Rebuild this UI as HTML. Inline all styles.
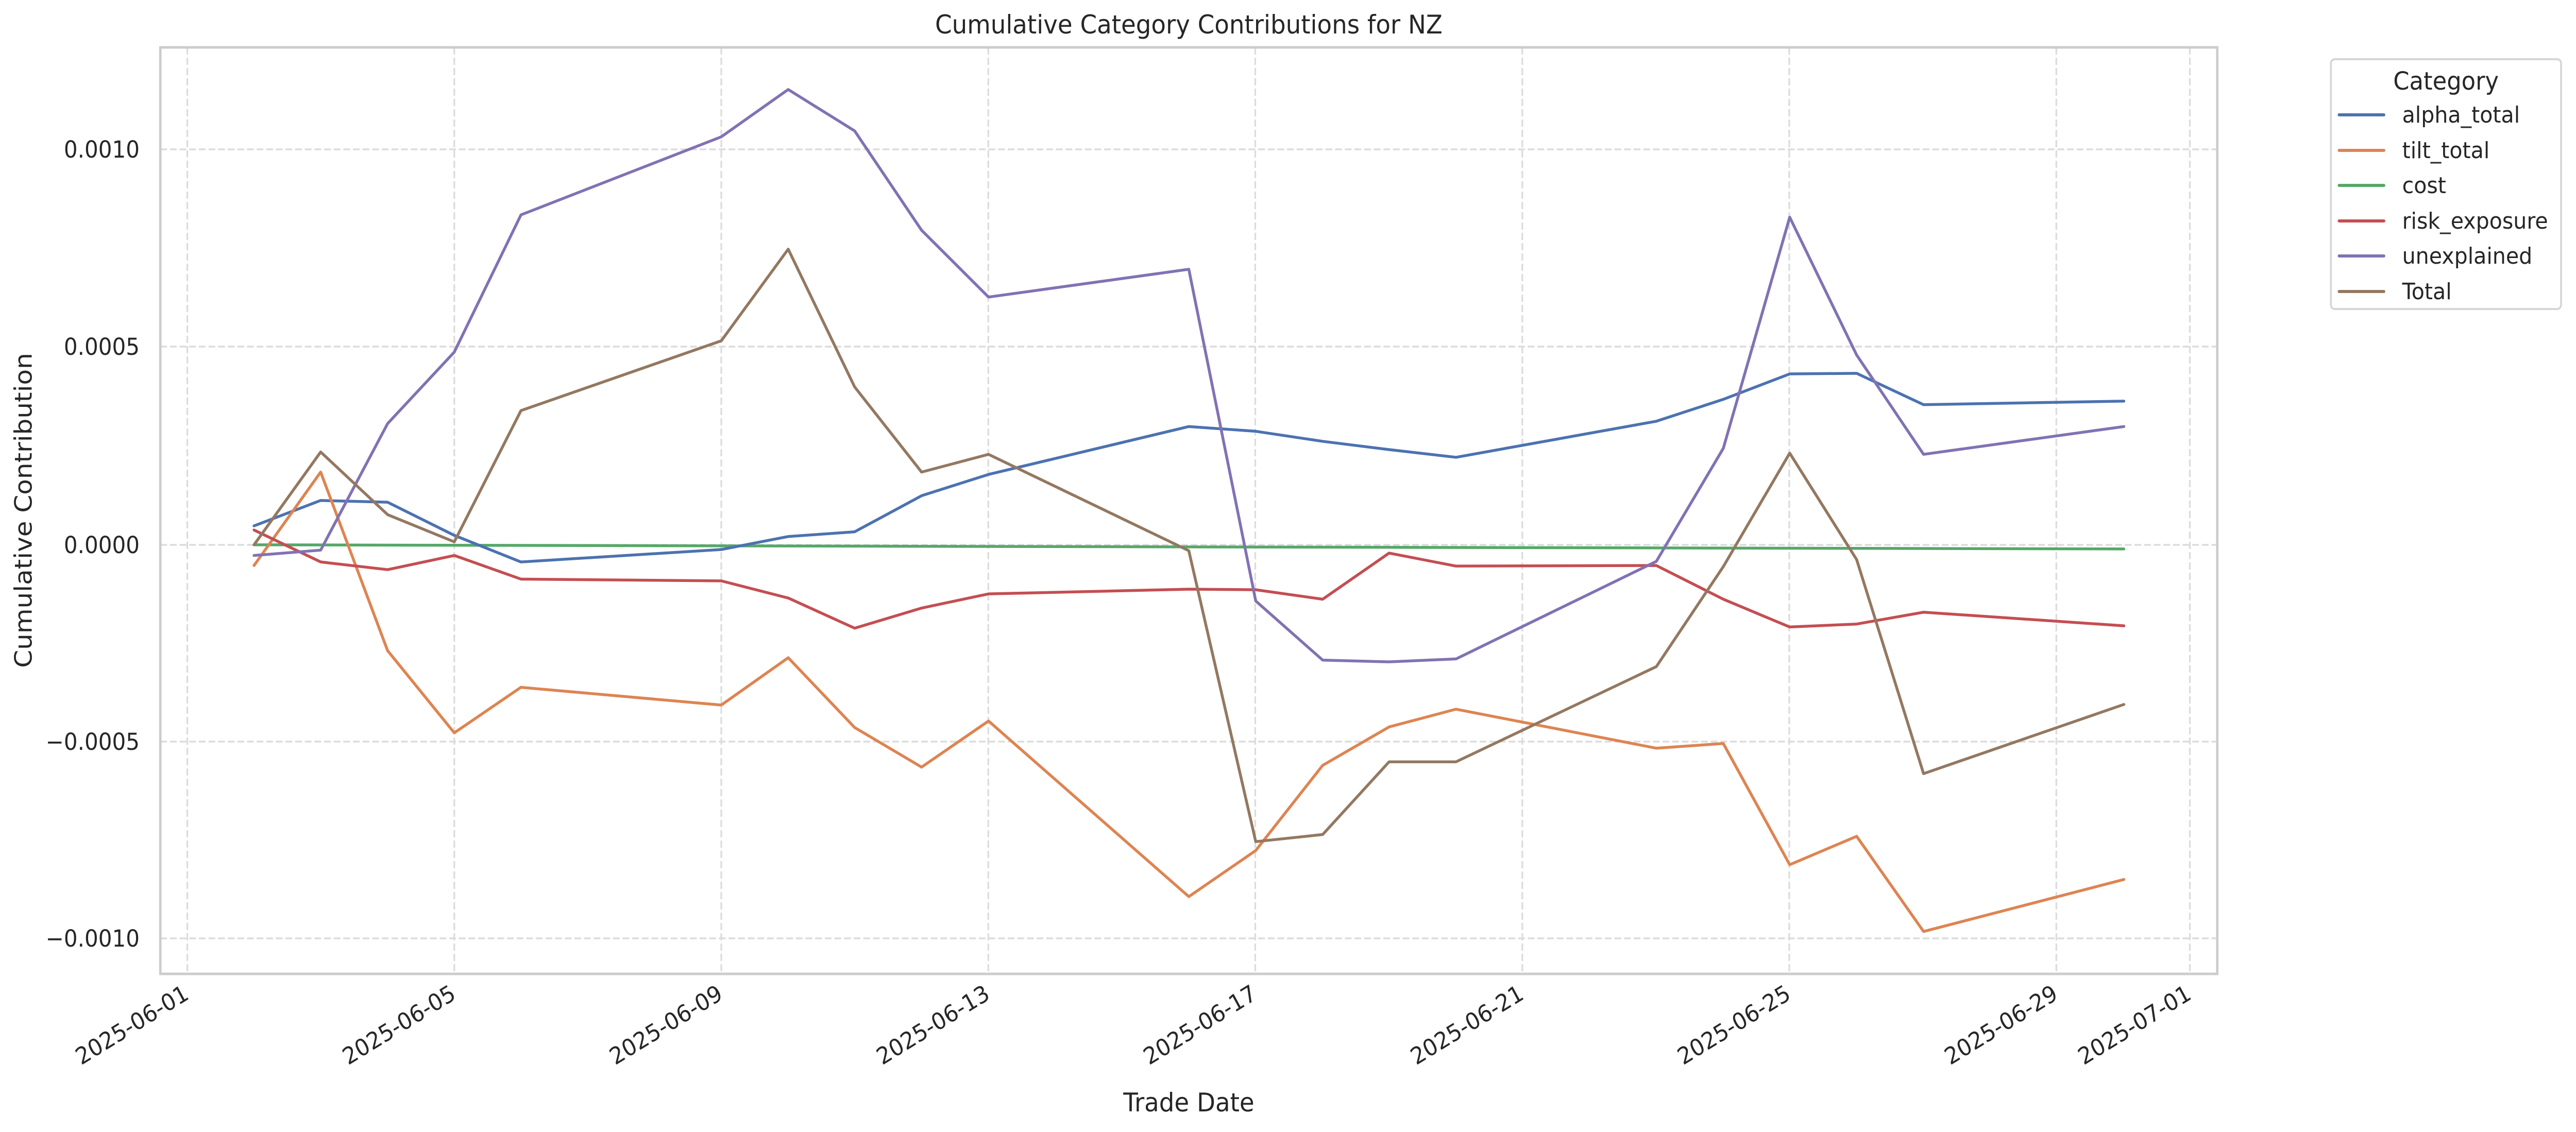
<!DOCTYPE html>
<html><head><meta charset="utf-8"><style>
html,body{margin:0;padding:0;background:#fff;overflow:hidden;width:100vw;height:100vh;}
svg{display:block;width:100vw;height:100vh;}
text{font-family:"DejaVu Sans","Liberation Sans",sans-serif;fill:#262626;}
</style></head><body>
<svg viewBox="0 0 5350 2198" preserveAspectRatio="none" xmlns="http://www.w3.org/2000/svg">
<rect width="5350" height="2198" fill="#fff"/>
<g stroke="#dcdcdc" stroke-width="3.5" stroke-dasharray="14 6" fill="none">
<line x1="333" x2="4605" y1="290" y2="290"/>
<line x1="333" x2="4605" y1="673" y2="673"/>
<line x1="333" x2="4605" y1="1058" y2="1058"/>
<line x1="333" x2="4605" y1="1440" y2="1440"/>
<line x1="333" x2="4605" y1="1822" y2="1822"/>
<line x1="389" x2="389" y1="92" y2="1891"/>
<line x1="943.5" x2="943.5" y1="92" y2="1891"/>
<line x1="1498" x2="1498" y1="92" y2="1891"/>
<line x1="2052.6" x2="2052.6" y1="92" y2="1891"/>
<line x1="2607" x2="2607" y1="92" y2="1891"/>
<line x1="3161.6" x2="3161.6" y1="92" y2="1891"/>
<line x1="3716" x2="3716" y1="92" y2="1891"/>
<line x1="4270.7" x2="4270.7" y1="92" y2="1891"/>
<line x1="4548" x2="4548" y1="92" y2="1891"/>
</g>
<g transform="translate(0,90) scale(1,1.1481)" fill="none" stroke-width="5.5" stroke-linejoin="round" stroke-linecap="round">
<polyline vector-effect="non-scaling-stroke" stroke="#55a868" points="527.6,843 4411,850"/>
<polyline vector-effect="non-scaling-stroke" stroke="#4c72b0" points="527.6,811 666,768 805,771 943.5,827 1082,872 1498,851 1637,829 1775,821 1914,760 2053,724 2469,643 2608,651 2747,668 2885,682 3024,695 3440,634 3579,597 3717,554 3856,553 3995,606 4411,600"/>
<polyline vector-effect="non-scaling-stroke" stroke="#dd8452" points="527.6,878 666,720 805,1022 943.5,1161 1082,1084 1498,1114 1637,1034 1775,1152 1914,1219 2053,1141 2469,1438 2608,1360 2747,1216 2885,1151 3024,1121 3440,1187 3579,1179 3717,1384 3856,1336 3995,1497 4411,1409"/>
<polyline vector-effect="non-scaling-stroke" stroke="#c44e52" points="527.6,818 666,872 805,885 943.5,861 1082,901 1498,904 1637,933 1775,984 1914,950 2053,926 2469,918 2608,919 2747,935 2885,857 3024,879 3440,878 3579,935 3717,982 3856,977 3995,957 4411,980"/>
<polyline vector-effect="non-scaling-stroke" stroke="#8172b3" points="527.6,861 666,852 805,638 943.5,517 1082,285 1498,153 1637,73 1775,143 1914,311 2053,424 2469,377 2608,938 2747,1038 2885,1041 3024,1036 3440,871 3579,680 3717,289 3856,522 3995,690 4411,643"/>
<polyline vector-effect="non-scaling-stroke" stroke="#937860" points="527.6,843 666,686 805,792 943.5,838 1082,616 1498,498 1637,343 1775,576 1914,720 2053,690 2469,853 2608,1345 2747,1333 2885,1210 3024,1210 3440,1049 3579,880 3717,688 3856,868 3995,1230 4411,1113"/>
</g>
<rect x="333" y="92" width="4272" height="1799" fill="none" stroke="#cccccc" stroke-width="5"/>
<g font-size="45" text-anchor="end">
<text x="290" y="306">0.0010</text>
<text x="290" y="689">0.0005</text>
<text x="290" y="1074">0.0000</text>
<text x="290" y="1456">−0.0005</text>
<text x="290" y="1838">−0.0010</text>
</g>
<g font-size="45" text-anchor="end">
<text transform="translate(395,1938) rotate(-30)">2025-06-01</text>
<text transform="translate(949.5,1938) rotate(-30)">2025-06-05</text>
<text transform="translate(1504,1938) rotate(-30)">2025-06-09</text>
<text transform="translate(2058.6,1938) rotate(-30)">2025-06-13</text>
<text transform="translate(2613,1938) rotate(-30)">2025-06-17</text>
<text transform="translate(3167.6,1938) rotate(-30)">2025-06-21</text>
<text transform="translate(3722,1938) rotate(-30)">2025-06-25</text>
<text transform="translate(4276.7,1938) rotate(-30)">2025-06-29</text>
<text transform="translate(4554,1938) rotate(-30)">2025-07-01</text>
</g>
<text x="2469" y="65" font-size="50" text-anchor="middle">Cumulative Category Contributions for NZ</text>
<text x="2469" y="2158" font-size="50" text-anchor="middle">Trade Date</text>
<text transform="translate(66,991) rotate(-90)" font-size="50" text-anchor="middle">Cumulative Contribution</text>
<rect x="4841" y="115" width="478" height="485" rx="8" fill="#fff" stroke="#d6d6d6" stroke-width="4"/>
<text x="5080" y="174" font-size="48" text-anchor="middle">Category</text>
<g stroke-width="6" stroke-linecap="round">
<line x1="4858" x2="4951" y1="223" y2="223" stroke="#4c72b0"/>
<line x1="4858" x2="4951" y1="292" y2="292" stroke="#dd8452"/>
<line x1="4858" x2="4951" y1="360" y2="360" stroke="#55a868"/>
<line x1="4858" x2="4951" y1="429" y2="429" stroke="#c44e52"/>
<line x1="4858" x2="4951" y1="497" y2="497" stroke="#8172b3"/>
<line x1="4858" x2="4951" y1="566" y2="566" stroke="#937860"/>
</g>
<g font-size="44">
<text x="4989" y="238">alpha_total</text>
<text x="4989" y="307">tilt_total</text>
<text x="4989" y="375">cost</text>
<text x="4989" y="444">risk_exposure</text>
<text x="4989" y="512">unexplained</text>
<text x="4989" y="581">Total</text>
</g>
</svg>
</body></html>
